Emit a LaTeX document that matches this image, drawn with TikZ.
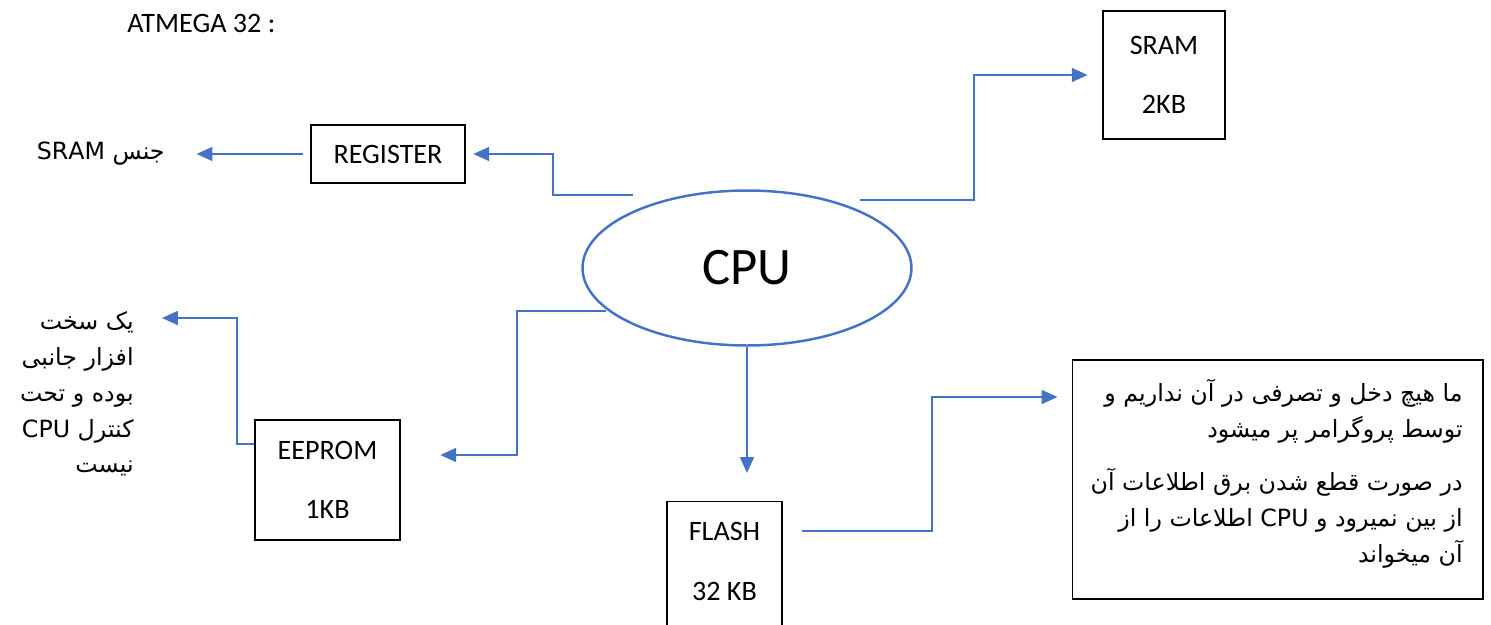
\documentclass[tikz,border=0pt]{standalone}
\usepackage{fontspec}
\setmainfont{Carlito}
\newfontfamily\persianfont[Script=Arabic]{DejaVu Sans}
\TeXXeTstate=1
\usetikzlibrary{arrows.meta,shapes.geometric,calc}
\definecolor{linkblue}{HTML}{4472C4}
\tikzset{
  box/.style={draw=black, line width=0.6pt, inner sep=0pt, align=center},
  link/.style={draw=linkblue, line width=0.8pt, -{Triangle[length=9pt,width=8pt]}},
  fa/.style={font=\persianfont\fontsize{13.5}{20.4}\selectfont, align=right, inner sep=0pt},
}

\begin{document}
\begin{tikzpicture}[x=0.02cm, y=-0.02cm, font=\fontsize{16}{18}\selectfont]
\clip (0,0) rectangle (1491,625);
\fill[white] (0,0) rectangle (1491,625);

\node[anchor=west, inner sep=0pt] (title) at (127,23) {ATMEGA 32 :};

\node[ellipse, draw=linkblue, line width=1.4pt, minimum width=6.58cm, minimum height=3.1cm,
      font=\fontsize{30}{34}\selectfont] (cpu) at (747,268) {CPU};

% memory blocks
\begin{scope}[every node/.style={box}]
    \node[minimum width=3.08cm, minimum height=1.16cm] (reg) at (388,154) {REGISTER};
    \node[minimum width=2.44cm, minimum height=2.56cm] (sram) at (1164,75) {SRAM\\[16pt]2KB};
    \node[minimum width=2.9cm, minimum height=2.4cm] (eep) at (327.5,480) {EEPROM\\[16pt]1KB};
    \node[anchor=north, minimum width=2.3cm, minimum height=3cm] (flash) at (724.5,501) {};
    \node[minimum width=8.22cm, minimum height=4.78cm] (note) at (1277.5,479.5) {};
\end{scope}
\node[align=center, inner sep=0pt] (flashtxt) at ($(flash.north)+(0,60.5)$) {FLASH\\[16pt]32 KB};

% persian notes
\node[fa, anchor=east] (srtype) at (165,154) {\beginR جنس \beginL SRAM\endL\endR};
\node[fa, anchor=east] (hwnote) at (134,394) {\beginR یک سخت\endR\\
    \beginR افزار جانبی\endR\\
    \beginR بوده و تحت\endR\\
    \beginR کنترل  \beginL CPU\endL\endR\\
    \beginR نیست\endR};
\begin{scope}[every node/.append style={font=\persianfont\fontsize{14.5}{19.6}\selectfont}]
\node[fa, anchor=east] (p1) at (1463,411) {\beginR ما هیچ دخل و تصرفی در آن نداریم و\endR\\
    \beginR توسط پروگرامر پر میشود\endR};
\node[fa, anchor=east] (p2) at (1463,518) {\beginR در صورت قطع شدن برق اطلاعات آن\endR\\
    \beginR از بین نمیرود و \beginL CPU\endL{} اطلاعات را از\endR\\
    \beginR آن میخواند\endR};
\end{scope}

% connectors
\coordinate (b1) at (553,195);
\coordinate (b2) at (974,200);
\coordinate (b3) at (517,311);
\coordinate (b4) at (237,318);
\coordinate (t4) at (162,318);
\coordinate (b5) at (932,531);
\coordinate (c1) at (633,195);
\coordinate (c2) at (860,200);
\coordinate (c3) at (606,311);

\draw[link, shorten >=4.5pt] (c1) -- (b1) |- (reg.east);
\draw[link, shorten <=4.5pt, shorten >=18pt] (reg.west) -- (srtype.east);
\draw[link, shorten >=8.5pt] (c2) -- (b2) |- (sram.west);
\draw[link, shorten >=22.7pt] (c3) -- (b3) |- ($(eep.east)+(0,-25)$);
\draw[link] ($(eep.west)+(0,-36)$) -| (b4) -- (t4);
\draw[link, shorten >=16pt] (cpu.south) -- (cpu.south |- flash.north);
\draw[link, shorten <=11.3pt, shorten >=8pt] (flash.east |- b5) -- (b5) |- ($(note.west)+(0,-82.5)$);
\end{tikzpicture}
\end{document}
